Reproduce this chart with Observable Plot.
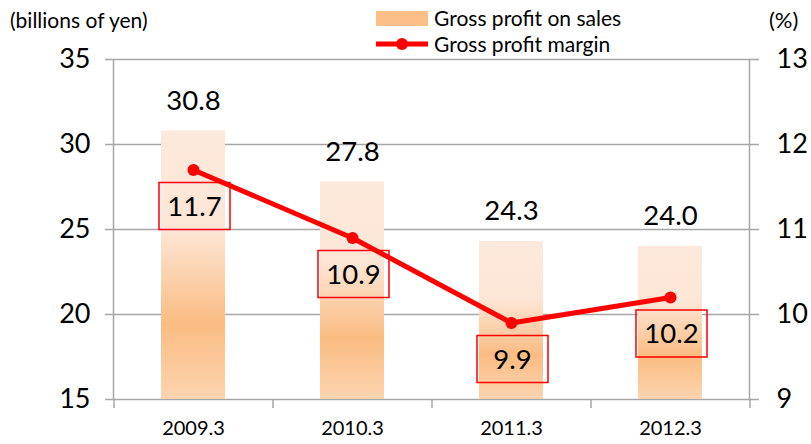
<!DOCTYPE html>
<html>
<head>
<meta charset="utf-8">
<script src="https://cdn.jsdelivr.net/npm/d3@7"></script>
<script src="https://cdn.jsdelivr.net/npm/@observablehq/plot@0.6"></script>
<style>
  html, body { margin: 0; padding: 0; background: #fff; }
  #wrap { position: relative; width: 811px; height: 444px; font-family: Lato, "Noto Sans", sans-serif; color: #000; }
  #wrap svg.plot { position: absolute; left: 0; top: 0; }
  .lbl { position: absolute; white-space: nowrap; line-height: 1; }
</style>
</head>
<body>
<div id="wrap"></div>
<script>
// ---- data ----
const categories = ["2009.3", "2010.3", "2011.3", "2012.3"];
const grossProfit = [30.8, 27.8, 24.3, 24.0];      // billions of yen
const grossMargin = [11.7, 10.9, 9.9, 10.2];        // %
const leftTicks = [15, 20, 25, 30, 35];
const rightDomain = [9, 13];
const leftDomain = [15, 35];

const rows = categories.map((c, i) => ({cat: c, gp: grossProfit[i], gm: grossMargin[i]}));

// map % onto the left (yen) scale
const toLeft = (m) => leftDomain[0] + (m - rightDomain[0]) * (leftDomain[1] - leftDomain[0]) / (rightDomain[1] - rightDomain[0]);
const toRight = (v) => rightDomain[0] + (v - leftDomain[0]) * (rightDomain[1] - rightDomain[0]) / (leftDomain[1] - leftDomain[0]);

// ---- layout ----
const W = 811, H = 444, mt = 59, mb = 45, ml = 113, mr = 62;
const step = (W - ml - mr) / categories.length;
const grid = "#A6A6A6";
const font = "Lato, 'Noto Sans', sans-serif";

const defs = () => {
  const d = d3.create("svg:defs");
  const g = d.append("linearGradient").attr("id", "barGrad").attr("x1", 0).attr("y1", 0).attr("x2", 0).attr("y2", 1);
  g.append("stop").attr("offset", "0%").attr("stop-color", "#FDE9DB");
  g.append("stop").attr("offset", "37%").attr("stop-color", "#FDE6D6");
  g.append("stop").attr("offset", "72%").attr("stop-color", "#FBBC82");
  g.append("stop").attr("offset", "100%").attr("stop-color", "#FDD4B0");
  return d.node();
};

const boxSymbol = { draw(ctx) { ctx.rect(-35.5, -23.5, 71, 47); } };

const chart = Plot.plot({
  width: W, height: H,
  marginTop: mt, marginBottom: mb, marginLeft: ml, marginRight: mr,
  style: {fontFamily: font, color: "#000", background: "transparent", overflow: "visible"},
  x: {type: "band", domain: categories, paddingInner: 0.6, paddingOuter: 0.3, axis: null},
  y: {domain: leftDomain, axis: null},
  marks: [
    defs,
    Plot.ruleY(leftTicks.slice(1, -1), {stroke: grid, strokeWidth: 1.5}),
    Plot.frame({stroke: grid, strokeWidth: 1.5}),
    Plot.axisY({anchor: "left", ticks: leftTicks, tickSize: 8, tickPadding: 15, stroke: grid, strokeWidth: 1.5, fontSize: 27, tickFormat: d3.format("d"), label: null}),
    Plot.axisY({anchor: "right", ticks: leftTicks, tickSize: 9, tickPadding: 18, stroke: grid, strokeWidth: 1.5, fontSize: 27, tickFormat: (v) => String(toRight(v)), label: null}),
    Plot.ruleX(categories, {x: (d) => d, dx: -step / 2, stroke: grid, strokeWidth: 1.5, insetTop: H - mt - mb, insetBottom: -9}),
    Plot.ruleX(categories.slice(-1), {x: (d) => d, dx: step / 2, stroke: grid, strokeWidth: 1.5, insetTop: H - mt - mb, insetBottom: -9}),
    Plot.axisX({anchor: "bottom", tickSize: 0, tickPadding: 21, fontSize: 20, label: null}),
    Plot.barY(rows, {x: "cat", y1: leftDomain[0], y2: "gp", fill: "url(#barGrad)"}),
    Plot.text(rows, {x: "cat", y: "gp", text: (d) => d.gp.toFixed(1), dy: -30, fontSize: 27.5, fill: "#000"}),
    Plot.line(rows, {x: "cat", y: (d) => toLeft(d.gm), stroke: "#FF0000", strokeWidth: 5}),
    Plot.dot(rows, {x: "cat", y: (d) => toLeft(d.gm), r: 6, fill: "#FF0000"}),
    Plot.dot(rows, {x: "cat", y: (d) => toLeft(d.gm), symbol: boxSymbol, dy: 36, dx: 1, fill: "none", stroke: "#FF0000", strokeWidth: 1.5}),
    Plot.text(rows, {x: "cat", y: (d) => toLeft(d.gm), text: (d) => d.gm.toFixed(1), dy: 37, dx: 1, fontSize: 27.5, fill: "#000"})
  ]
});
chart.classList.add("plot");

const wrap = document.getElementById("wrap");
wrap.appendChild(chart);

function addLabel(text, css) {
  const el = document.createElement("div");
  el.className = "lbl";
  el.textContent = text;
  Object.assign(el.style, css);
  wrap.appendChild(el);
  return el;
}
addLabel("(billions of yen)", {left: "10px", top: "9px", fontSize: "21px"});
addLabel("(%)", {left: "769px", top: "9px", fontSize: "22px"});

// legend
const leg = d3.select(wrap).append("svg")
  .style("position", "absolute").style("left", "370px").style("top", "4px")
  .attr("width", 64).attr("height", 52);
leg.append("rect").attr("x", 6).attr("y", 7).attr("width", 52).attr("height", 15).attr("fill", "#FCBF87");
leg.append("line").attr("x1", 6).attr("x2", 58).attr("y1", 40).attr("y2", 40).attr("stroke", "#FF0000").attr("stroke-width", 5);
leg.append("circle").attr("cx", 32).attr("cy", 40).attr("r", 6).attr("fill", "#FF0000");
addLabel("Gross profit on sales", {left: "434px", top: "7px", fontSize: "21px"});
addLabel("Gross profit margin", {left: "434px", top: "33px", fontSize: "21px"});
</script>
</body>
</html>
